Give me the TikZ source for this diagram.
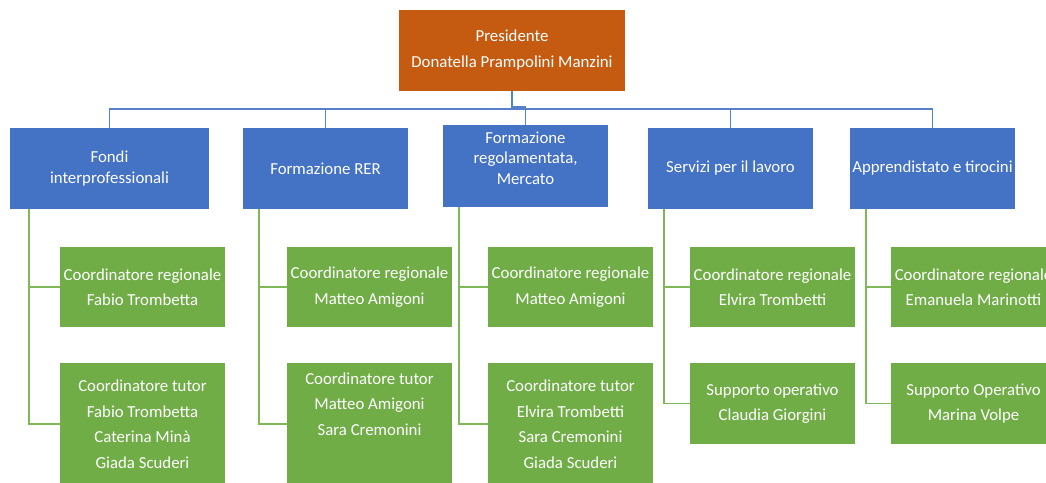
\documentclass[tikz,border=0pt]{standalone}
\usepackage{fontspec}
\setmainfont{Carlito}
\definecolor{presorange}{HTML}{C55A11}
\definecolor{areablue}{HTML}{4472C4}
\definecolor{rolegreen}{HTML}{70AD47}
\definecolor{linegreen}{HTML}{7FB857}

\begin{document}
\begin{tikzpicture}[x=1pt,y=-1pt,
  box/.style={inner sep=0pt,outer sep=0pt,text=white,align=center},
  presbox/.style={box,fill=presorange,minimum width=226pt,minimum height=81pt,
    font=\fontsize{16.8}{26}\selectfont},
  areabox/.style={box,fill=areablue,minimum width=165pt,minimum height=81pt,
    font=\fontsize{16.8}{20.5}\selectfont},
  rolebox/.style={box,fill=rolegreen,minimum width=165pt,minimum height=80pt,
    font=\fontsize{16.8}{25.5}\selectfont},
  bline/.style={areablue!90!white,line width=1.5pt},
  gline/.style={linegreen,line width=1.5pt}]
  \useasboundingbox[fill=white] (0,0) rectangle (1046,482);
  % president
  \node[presbox] (pres) at (512,50.5) {Presidente\\Donatella Prampolini Manzini};
  % areas
  \node[areabox,minimum width=199pt] (a1) at (109.5,168.5) {Fondi\\interprofessionali};
  \node[areabox] (a2) at (325.5,168.5) {Formazione RER};
  \node[areabox,minimum height=82pt] (a3) at (525.5,166) {Formazione\\regolamentata,\\Mercato\\[-4pt]};
  \node[areabox] (a4) at (730.5,168.5) {Servizi per il lavoro};
  \node[areabox] (a5) at (932.5,168.5) {Apprendistato e tirocini};
  \draw[bline] (pres.south) -- ++(0,16) -| (a3.north);
  \draw[bline] (a1.north) -- ++(0,-19) -| (a5.north);
  \draw[bline] (a2.north) -- ++(0,-19);
  \draw[bline] (a4.north) -- ++(0,-19);
  % roles
  \node[rolebox] (r1a) at (142.5,287) {Coordinatore regionale\\Fabio Trombetta};
  \node[rolebox,minimum height=122pt] (r1b) at (142.5,424)
    {Coordinatore tutor\\Fabio Trombetta\\Caterina Minà\\Giada Scuderi};
  \node[rolebox] (r2a) at (369.5,287) {Coordinatore regionale\\Matteo Amigoni};
  \node[rolebox,minimum height=122pt] (r2b) at (369.5,424) {};
  \node[box,font=\fontsize{16.8}{25.5}\selectfont] (r2bt) at (369.5,404)
    {Coordinatore tutor\\Matteo Amigoni\\Sara Cremonini};
  \node[rolebox] (r3a) at (570.5,287) {Coordinatore regionale\\Matteo Amigoni};
  \node[rolebox,minimum height=122pt] (r3b) at (570.5,424)
    {Coordinatore tutor\\Elvira Trombetti\\Sara Cremonini\\Giada Scuderi};
  \node[rolebox] (r4a) at (772.5,287) {Coordinatore regionale\\Elvira Trombetti};
  \node[rolebox,minimum height=81pt] (r4b) at (772.5,403.5) {Supporto operativo\\Claudia Giorgini};
  \node[rolebox] (r5a) at (973.5,287) {Coordinatore regionale\\Emanuela Marinotti};
  \node[rolebox,minimum height=81pt] (r5b) at (973.5,403.5) {Supporto Operativo\\Marina Volpe};
  \draw[gline] ([xshift=19pt]a1.south west) |- (r1a.west);
  \draw[gline] ([xshift=19pt]a1.south west) |- (r1b.west);
  \draw[gline] ([xshift=16pt]a2.south west) |- (r2a.west);
  \draw[gline] ([xshift=16pt]a2.south west) |- (r2b.west);
  \draw[gline] ([xshift=16pt]a3.south west) |- (r3a.west);
  \draw[gline] ([xshift=16pt]a3.south west) |- (r3b.west);
  \draw[gline] ([xshift=16pt]a4.south west) |- (r4a.west);
  \draw[gline] ([xshift=16pt]a4.south west) |- (r4b.west);
  \draw[gline] ([xshift=16pt]a5.south west) |- (r5a.west);
  \draw[gline] ([xshift=16pt]a5.south west) |- (r5b.west);
\end{tikzpicture}
\end{document}
